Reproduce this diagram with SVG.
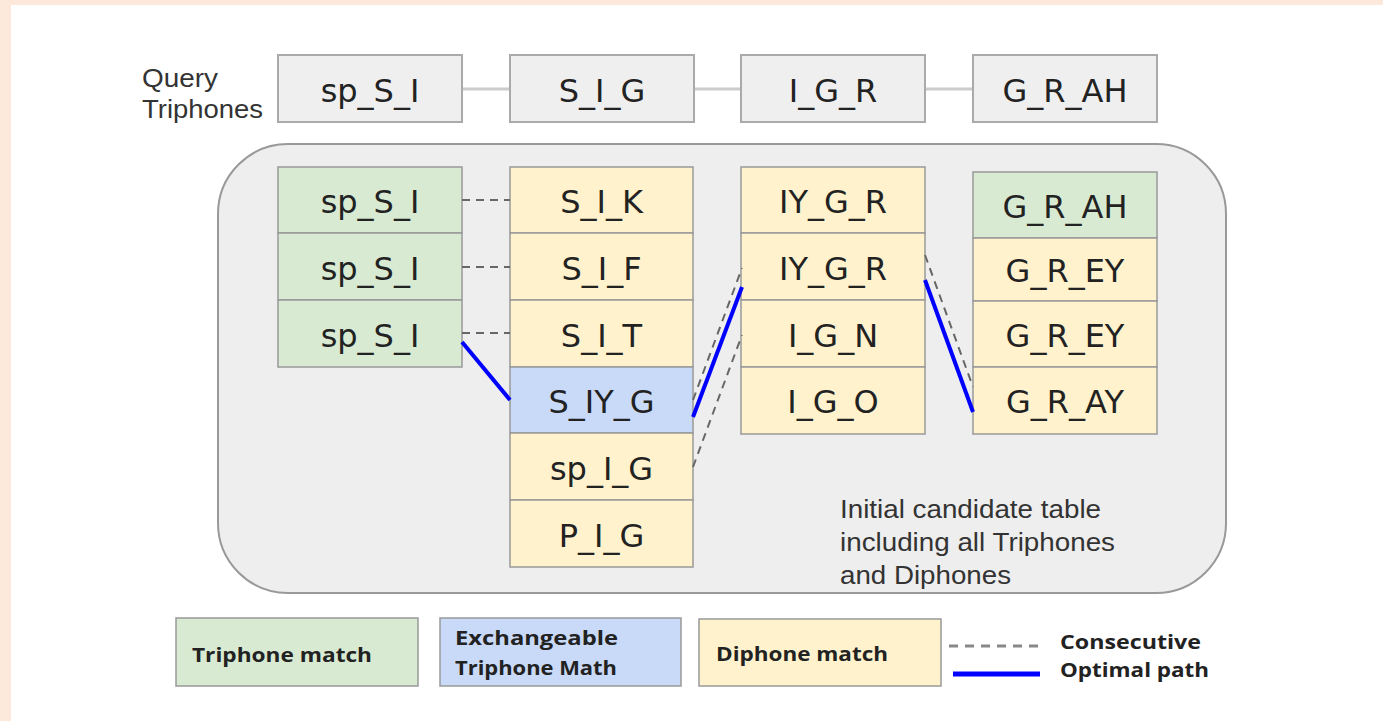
<svg xmlns="http://www.w3.org/2000/svg" width="1383" height="721" viewBox="0 0 1383 721">
<style>
.frame{fill:#fde9dc}
.q{fill:#efefef;stroke:#aaaaaa;stroke-width:2}
.cell{stroke:#999999;stroke-width:1.5}
.g{fill:#d9ead3}
.y{fill:#fff2cc}
.b{fill:#c9daf8}
.ct{font-family:"DejaVu Sans",sans-serif;font-size:32px;fill:#222;text-anchor:middle}
.lbl{font-family:"Liberation Sans",Arial,sans-serif;font-size:25px;fill:#333}
.leg{font-family:"Open Sans","Liberation Sans",sans-serif;font-weight:700;font-size:20px;fill:#222}
.dash{stroke:#666666;stroke-width:2;stroke-dasharray:8 6;fill:none}
.opt{stroke:#0000ff;stroke-width:4;fill:none}
.qline{stroke:#cccccc;stroke-width:3}
</style>
<rect x="0" y="0" width="1383" height="721" fill="#ffffff"/>
<rect class="frame" x="0" y="0" width="1383" height="5"/>
<rect class="frame" x="0" y="0" width="11" height="721"/>

<g id="query-label">
<text class="lbl" x="142" y="87" textLength="76" lengthAdjust="spacingAndGlyphs">Query</text>
<text class="lbl" x="142" y="118" textLength="121" lengthAdjust="spacingAndGlyphs">Triphones</text>
</g>

<g id="query-connectors">
<line class="qline" x1="462" y1="89" x2="510" y2="89"/>
<line class="qline" x1="694" y1="89" x2="741" y2="89"/>
<line class="qline" x1="925" y1="89" x2="973" y2="89"/>
</g>

<g id="q1"><rect class="q" x="278" y="55" width="184" height="67"/><text class="ct" x="370" y="102">sp_S_I</text></g>
<g id="q2"><rect class="q" x="510" y="55" width="184" height="67"/><text class="ct" x="602" y="102">S_I_G</text></g>
<g id="q3"><rect class="q" x="741" y="55" width="184" height="67"/><text class="ct" x="833" y="102">I_G_R</text></g>
<g id="q4"><rect class="q" x="973" y="55" width="184" height="67"/><text class="ct" x="1065" y="102">G_R_AH</text></g>

<g id="candidate-table">
<rect x="218" y="144" width="1008" height="449" rx="70" ry="70" fill="#eeeeee" stroke="#999999" stroke-width="2"/>
</g>

<g id="col1">
<g id="c1r1"><rect class="cell g" x="278" y="167" width="184" height="66"/><text class="ct" x="370" y="213">sp_S_I</text></g>
<g id="c1r2"><rect class="cell g" x="278" y="233" width="184" height="67"/><text class="ct" x="370" y="280">sp_S_I</text></g>
<g id="c1r3"><rect class="cell g" x="278" y="300" width="184" height="67"/><text class="ct" x="370" y="347">sp_S_I</text></g>
</g>

<g id="col2">
<g id="c2r1"><rect class="cell y" x="510" y="167" width="183" height="66"/><text class="ct" x="601.5" y="213">S_I_K</text></g>
<g id="c2r2"><rect class="cell y" x="510" y="233" width="183" height="67"/><text class="ct" x="601.5" y="280">S_I_F</text></g>
<g id="c2r3"><rect class="cell y" x="510" y="300" width="183" height="67"/><text class="ct" x="601.5" y="347">S_I_T</text></g>
<g id="c2r4"><rect class="cell b" x="510" y="367" width="183" height="66"/><text class="ct" x="601.5" y="413">S_IY_G</text></g>
<g id="c2r5"><rect class="cell y" x="510" y="433" width="183" height="67"/><text class="ct" x="601.5" y="480">sp_I_G</text></g>
<g id="c2r6"><rect class="cell y" x="510" y="500" width="183" height="67"/><text class="ct" x="601.5" y="547">P_I_G</text></g>
</g>

<g id="col3">
<g id="c3r1"><rect class="cell y" x="741" y="167" width="184" height="66"/><text class="ct" x="833" y="213">IY_G_R</text></g>
<g id="c3r2"><rect class="cell y" x="741" y="233" width="184" height="67"/><text class="ct" x="833" y="280">IY_G_R</text></g>
<g id="c3r3"><rect class="cell y" x="741" y="300" width="184" height="67"/><text class="ct" x="833" y="347">I_G_N</text></g>
<g id="c3r4"><rect class="cell y" x="741" y="367" width="184" height="67"/><text class="ct" x="833" y="413">I_G_O</text></g>
</g>

<g id="col4">
<g id="c4r1"><rect class="cell g" x="973" y="172" width="184" height="66"/><text class="ct" x="1065" y="218">G_R_AH</text></g>
<g id="c4r2"><rect class="cell y" x="973" y="238" width="184" height="63"/><text class="ct" x="1065" y="282">G_R_EY</text></g>
<g id="c4r3"><rect class="cell y" x="973" y="301" width="184" height="66"/><text class="ct" x="1065" y="347">G_R_EY</text></g>
<g id="c4r4"><rect class="cell y" x="973" y="367" width="184" height="67"/><text class="ct" x="1065" y="413">G_R_AY</text></g>
</g>

<g id="connectors">
<line class="dash" x1="462" y1="200" x2="510" y2="200"/>
<line class="dash" x1="462" y1="267" x2="510" y2="267"/>
<line class="dash" x1="462" y1="333" x2="510" y2="333"/>
<line class="dash" x1="693" y1="400" x2="742" y2="268"/>
<line class="dash" x1="693" y1="467" x2="742" y2="335"/>
<line class="dash" x1="925" y1="255" x2="973" y2="387"/>
<line class="opt" x1="462" y1="342" x2="510" y2="400"/>
<line class="opt" x1="693" y1="417" x2="742" y2="287"/>
<line class="opt" x1="925" y1="280" x2="973" y2="412"/>
</g>

<g id="table-caption">
<text class="lbl" x="840" y="518" textLength="261" lengthAdjust="spacingAndGlyphs">Initial candidate table</text>
<text class="lbl" x="840" y="551" textLength="275" lengthAdjust="spacingAndGlyphs">including all Triphones</text>
<text class="lbl" x="840" y="584" textLength="171" lengthAdjust="spacingAndGlyphs">and Diphones</text>
</g>

<g id="legend-triphone"><rect class="cell g" x="176" y="618" width="242" height="68"/><text class="leg" x="192" y="662" textLength="180" lengthAdjust="spacingAndGlyphs">Triphone match</text></g>
<g id="legend-exchangeable"><rect class="cell b" x="440" y="618" width="241" height="68"/><text class="leg" x="455" y="645" textLength="163" lengthAdjust="spacingAndGlyphs">Exchangeable</text><text class="leg" x="455" y="675" textLength="162" lengthAdjust="spacingAndGlyphs">Triphone Math</text></g>
<g id="legend-diphone"><rect class="cell y" x="699" y="619" width="242" height="67"/><text class="leg" x="716" y="661" textLength="172" lengthAdjust="spacingAndGlyphs">Diphone match</text></g>
<g id="legend-lines">
<line x1="949" y1="646" x2="1039" y2="646" stroke="#888888" stroke-width="3" stroke-dasharray="9 7"/>
<line x1="953" y1="674" x2="1040" y2="674" stroke="#0000ff" stroke-width="5"/>
<text class="leg" x="1060" y="649" textLength="141" lengthAdjust="spacingAndGlyphs">Consecutive</text>
<text class="leg" x="1060" y="677" textLength="149" lengthAdjust="spacingAndGlyphs">Optimal path</text>
</g>
</svg>
